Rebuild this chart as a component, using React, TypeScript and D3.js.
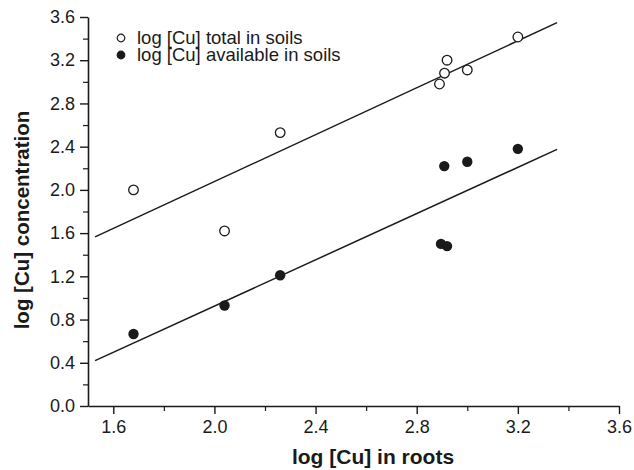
import React, { useEffect, useRef } from 'react';
import * as d3 from 'd3';

// log [Cu] in roots
const rootsTotal = [1.68, 2.04, 2.26, 2.89, 2.91, 2.92, 3.0, 3.2];
// log [Cu] total in soils
const totalSoil = [2.0, 1.62, 2.53, 2.98, 3.08, 3.2, 3.11, 3.415];

const rootsAvail = [1.68, 2.04, 2.26, 2.896, 2.909, 2.92, 3.0, 3.2];
// log [Cu] available in soils
const availSoil = [0.666, 0.93, 1.21, 1.5, 2.22, 1.48, 2.26, 2.38];

const xMajorTicks = [1.6, 2.0, 2.4, 2.8, 3.2, 3.6];
const xMinorTicks = [1.8, 2.2, 2.6, 3.0, 3.4];
const yMajorTicks = [0.0, 0.4, 0.8, 1.2, 1.6, 2.0, 2.4, 2.8, 3.2, 3.6];
const yMinorTicks = [0.2, 0.6, 1.0, 1.4, 1.8, 2.2, 2.6, 3.0, 3.4];
const fitRange = [1.528, 3.355];

const legendLabels = ['log [Cu] total in soils', 'log [Cu] available in soils'];

const linFit = (xs: number[], ys: number[]) => {
  const mx = d3.mean(xs) as number;
  const my = d3.mean(ys) as number;
  let sxy = 0;
  let sxx = 0;
  xs.forEach((x, i) => {
    sxy += (x - mx) * (ys[i] - my);
    sxx += (x - mx) * (x - mx);
  });
  const b = sxy / sxx;
  return (x: number) => my + b * (x - mx);
};

const App = () => {
  const ref = useRef<SVGSVGElement>(null);

  useEffect(() => {
    if (!ref.current) return;
    const svg = d3.select(ref.current);
    svg.selectAll('*').remove();

    const font = '"Liberation Sans", Arial, sans-serif';
    const ink = '#1a1a1a';

    const x = d3.scaleLinear().domain([1.5, 3.6]).range([88, 619]);
    const y = d3.scaleLinear().domain([0, 3.6]).range([406, 17]);

    const g = svg.append('g');

    // axes
    const xAxis = g.append('g').attr('transform', 'translate(0,406)');
    xAxis
      .call(d3.axisBottom(x).tickValues(xMajorTicks).tickSize(8).tickSizeOuter(0).tickPadding(6).tickFormat(d3.format('.1f')))
      .call(a => a.select('.domain').attr('stroke', ink).attr('stroke-width', 1.6));
    xAxis.selectAll('.tick line').attr('stroke', ink).attr('stroke-width', 1.4);
    xAxis.selectAll('.tick text').attr('fill', ink).style('font-size', '18px').style('font-family', font);
    g.append('g')
      .attr('transform', 'translate(0,406)')
      .call(d3.axisBottom(x).tickValues(xMinorTicks).tickSize(5).tickFormat(() => ''))
      .call(a => a.select('.domain').remove())
      .selectAll('.tick line').attr('stroke', ink).attr('stroke-width', 1.2);

    const yAxis = g.append('g').attr('transform', 'translate(88,0)');
    yAxis
      .call(d3.axisLeft(y).tickValues(yMajorTicks).tickSize(8).tickSizeOuter(0).tickPadding(5).tickFormat(d3.format('.1f')))
      .call(a => a.select('.domain').attr('stroke', ink).attr('stroke-width', 1.6));
    yAxis.selectAll('.tick line').attr('stroke', ink).attr('stroke-width', 1.4);
    yAxis.selectAll('.tick text').attr('fill', ink).style('font-size', '18px').style('font-family', font);
    g.append('g')
      .attr('transform', 'translate(88,0)')
      .call(d3.axisLeft(y).tickValues(yMinorTicks).tickSize(5).tickFormat(() => ''))
      .call(a => a.select('.domain').remove())
      .selectAll('.tick line').attr('stroke', ink).attr('stroke-width', 1.2);

    // axis titles
    g.append('text')
      .attr('x', 373)
      .attr('y', 464)
      .attr('text-anchor', 'middle')
      .attr('fill', ink)
      .style('font-family', font)
      .style('font-size', '21px')
      .style('font-weight', 'bold')
      .text('log [Cu] in roots');
    g.append('text')
      .attr('transform', 'translate(29,220) rotate(-90)')
      .attr('text-anchor', 'middle')
      .attr('fill', ink)
      .style('font-family', font)
      .style('font-size', '20.5px')
      .style('font-weight', 'bold')
      .text('log [Cu] concentration');

    // regression lines
    const line = d3.line<number>();
    [linFit(rootsTotal, totalSoil), linFit(rootsAvail, availSoil)].forEach(f => {
      g.append('path')
        .attr('d', line(fitRange.map(v => [x(v), y(f(v))] as [number, number])) as string)
        .attr('fill', 'none')
        .attr('stroke', ink)
        .attr('stroke-width', 1.5);
    });

    // points
    g.append('g')
      .selectAll('circle')
      .data(rootsTotal)
      .join('circle')
      .attr('cx', d => x(d))
      .attr('cy', (d, i) => y(totalSoil[i]))
      .attr('r', 4.8)
      .attr('fill', 'white')
      .attr('stroke', ink)
      .attr('stroke-width', 1.3);
    g.append('g')
      .selectAll('circle')
      .data(rootsAvail)
      .join('circle')
      .attr('cx', d => x(d))
      .attr('cy', (d, i) => y(availSoil[i]))
      .attr('r', 5.2)
      .attr('fill', ink);

    // legend
    const legend = g.append('g').attr('transform', 'translate(121,38)');
    legendLabels.forEach((label, i) => {
      const row = legend.append('g').attr('transform', `translate(0,${i * 17})`);
      row.append('circle')
        .attr('r', 3.8)
        .attr('fill', i === 0 ? 'white' : ink)
        .attr('stroke', ink)
        .attr('stroke-width', 1.2);
      row.append('text')
        .attr('x', 16)
        .attr('y', 5.5)
        .attr('fill', ink)
        .style('font-family', font)
        .style('font-size', '18.5px')
        .text(label);
    });
  }, []);

  return (
    <svg
      ref={ref}
      width={634}
      height={470}
      style={{ position: 'absolute', left: 0, top: 0, background: 'white' }}
    />
  );
};

export default App;
